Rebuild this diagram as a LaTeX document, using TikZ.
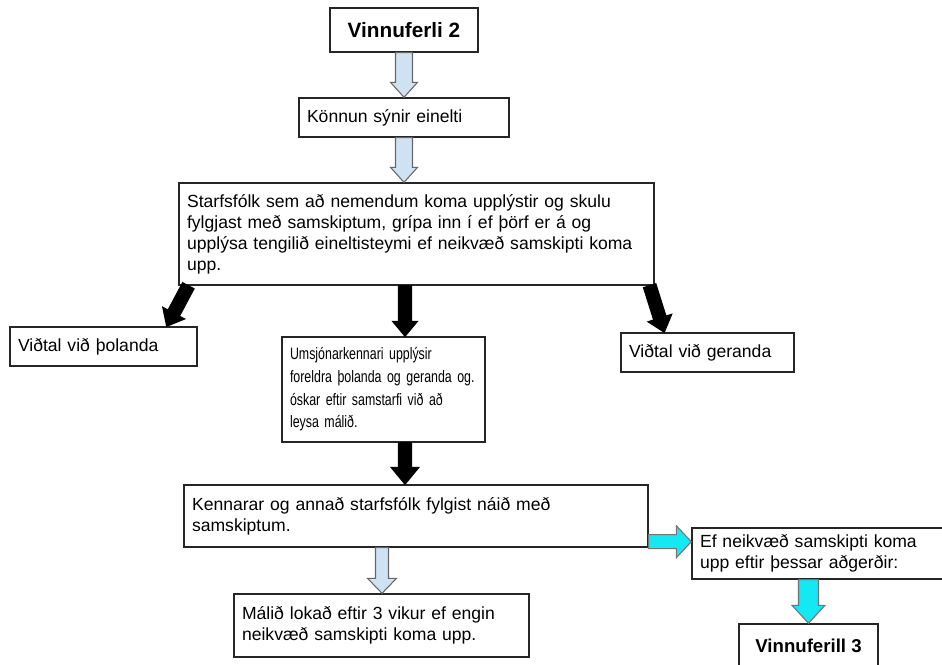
\documentclass[tikz,border=0pt]{standalone}
\usepackage{fontspec}
\setmainfont{Liberation Sans}
\usetikzlibrary{calc}
\definecolor{paleblue}{RGB}{207,226,243}
\definecolor{brightcyan}{RGB}{20,232,242}
\newcommand{\fatarrow}[6]{%
  \coordinate (fa-h) at ($(#3)!#6!(#2)$);
  \filldraw[#1] ($(#2)!#4!90:(#3)$) -- ($(fa-h)!#4!90:(#3)$) -- ($(fa-h)!#5!90:(#3)$) -- (#3)
    -- ($(fa-h)!#5!-90:(#3)$) -- ($(fa-h)!#4!-90:(#3)$) -- ($(#2)!#4!-90:(#3)$) -- cycle;
}

\begin{document}
\begin{tikzpicture}[x=0.02cm, y=-0.02cm,
                   box/.style={draw=black!85, line width=0.8pt, fill=white, align=left,
                               inner xsep=0.16cm, inner ysep=0pt,
                               font=\fontsize{10}{11.9}\selectfont},
                   titlebox/.style={draw=black!85, line width=0.8pt, fill=white, align=center,
                                    font=\bfseries\fontsize{11.8}{13}\selectfont},
                   palearrow/.style={fill=paleblue, draw=black!60, line width=0.6pt},
                   blackarrow/.style={fill=black, draw=black, line width=0.6pt},
                   cyanarrow/.style={fill=brightcyan, draw=black!55, line width=0.6pt}]
  \clip (0,0) rectangle (942,664);
  \node[titlebox, minimum width=2.96cm, minimum height=0.88cm] (vin2) at (404,30) {Vinnuferli 2};
  \node[box, text width=3.88cm, minimum height=0.78cm] (konnun) at (404,117.5) {Könnun sýnir einelti};
  \node[box, text width=9.18cm, minimum height=2.04cm] (big) at (416.5,234)
    {Starfsfólk sem að nemendum koma upplýstir og skulu\\
     fylgjast með samskiptum, grípa inn í ef þörf er á og\\
     upplýsa tengilið eineltisteymi ef neikvæð samskipti koma\\
     upp.};
  \node[box, text width=3.42cm, minimum height=0.78cm] (thol) at (103.5,346.5) {Viðtal við þolanda};
  \node[box, text width=3.14cm, minimum height=0.78cm] (ger) at (707.5,352.5) {Viðtal við geranda};
  \node[box, text width=3.74cm, minimum height=2.1cm,
        font=\addfontfeature{FakeStretch=0.75}\fontsize{9.4}{12.9}\selectfont] (umsj) at (383.5,389.5)
    {Umsjónarkennari upplýsir\\
     foreldra þolanda og geranda og.\\
     óskar eftir samstarfi við að\\
     leysa málið.};
  \node[box, text width=8.96cm, minimum height=1.24cm] (kenn) at (416,516)
    {Kennarar og annað starfsfólk fylgist náið með\\
     samskiptum.};
  \node[box, text width=5.58cm, minimum height=1.26cm] (malid) at (381.5,625.5)
    {Málið lokað eftir 3 vikur ef engin\\
     neikvæð samskipti koma upp.};
  \node[box, text width=5.04cm, minimum height=1.02cm] (ef) at (826,553.5)
    {Ef neikvæð samskipti koma\\
     upp eftir þessar aðgerðir:};
  \node[titlebox, minimum width=2.78cm, minimum height=0.88cm,
        font=\bfseries\fontsize{10.6}{12}\selectfont] (vin3) at (808.5,646) {Vinnuferill 3};

  \coordinate (a2) at (konnun.south |- big.north);
  \coordinate (dl1) at ($(big.south west)+(10,0)$);
  \coordinate (dl2) at ($(thol.north east)+(-31,0)$);
  \coordinate (dr1) at ($(big.south east)+(-5,0)$);
  \coordinate (dr2) at ($(ger.north west)+(44,0)$);
  \coordinate (c1) at ($(big.south)+(-11.5,0)$);
  \coordinate (c2) at (c1 |- umsj.north);
  \coordinate (d1) at ($(umsj.south)+(21.5,0)$);
  \coordinate (d2) at (d1 |- kenn.north);
  \coordinate (e1) at ($(kenn.south)+(-34,0)$);
  \coordinate (e2) at (e1 |- malid.north);
  \coordinate (f1) at ($(kenn.south east)+(0,-6)$);
  \coordinate (f2) at (f1 -| ef.west);
  \coordinate (g1) at (vin3.north |- ef.south);

  \fatarrow{palearrow}{vin2.south}{konnun.north}{0.17cm}{0.27cm}{0.3cm}
  \fatarrow{palearrow}{konnun.south}{a2}{0.17cm}{0.27cm}{0.3cm}
  \fatarrow{blackarrow}{dl1}{dl2}{0.13cm}{0.25cm}{0.3cm}
  \fatarrow{blackarrow}{dr1}{dr2}{0.13cm}{0.25cm}{0.3cm}
  \fatarrow{blackarrow}{c1}{c2}{0.13cm}{0.25cm}{0.3cm}
  \fatarrow{blackarrow}{d1}{d2}{0.13cm}{0.28cm}{0.34cm}
  \fatarrow{palearrow}{e1}{e2}{0.13cm}{0.29cm}{0.3cm}
  \fatarrow{cyanarrow}{f1}{f2}{0.14cm}{0.32cm}{0.3cm}
  \fatarrow{cyanarrow}{g1}{vin3.north}{0.2cm}{0.33cm}{0.36cm}
\end{tikzpicture}
\end{document}
